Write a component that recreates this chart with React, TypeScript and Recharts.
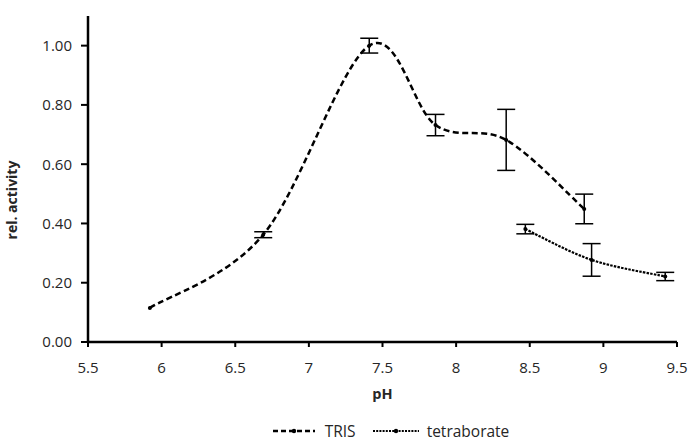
import React from 'react';
import { LineChart, Line, XAxis, YAxis, ErrorBar, Legend } from 'recharts';

const trisPH = [5.92, 6.69, 7.41, 7.86, 8.34, 8.87];
const trisActivity = [0.115, 0.362, 1.0, 0.732, 0.682, 0.449];
const trisError = [0, 0.01, 0.025, 0.036, 0.103, 0.05];

const tetraPH = [8.47, 8.92, 9.42];
const tetraActivity = [0.381, 0.277, 0.221];
const tetraError = [0.016, 0.055, 0.014];

const xTicks = [5.5, 6, 6.5, 7, 7.5, 8, 8.5, 9, 9.5];
const yTicks = [0, 0.2, 0.4, 0.6, 0.8, 1.0];

const trisData = trisPH.map((ph, i) => ({ ph, act: trisActivity[i], err: trisError[i] }));
const tetraData = tetraPH.map((ph, i) => ({ ph, act: tetraActivity[i], err: tetraError[i] }));

const font = 'Open Sans, sans-serif';
const textColor = '#262626';

// Catmull-Rom style smoothing, close to Excel's "smoothed line"
const smoothCurve = (context: any) => {
  let pts: number[][] = [];
  return {
    areaStart() {},
    areaEnd() {},
    lineStart() {
      pts = [];
    },
    lineEnd() {
      if (!pts.length) return;
      context.moveTo(pts[0][0], pts[0][1]);
      for (let i = 0; i < pts.length - 1; i++) {
        const p0 = pts[i - 1] || pts[i];
        const p1 = pts[i];
        const p2 = pts[i + 1];
        const p3 = pts[i + 2] || p2;
        const c1x = p1[0] + (p2[0] - p0[0]) / 6;
        const c1y = p1[1] + (p2[1] - p0[1]) / 6;
        const c2x = p2[0] - (p3[0] - p1[0]) / 6;
        const c2y = p2[1] - (p3[1] - p1[1]) / 6;
        context.bezierCurveTo(c1x, c1y, c2x, c2y, p2[0], p2[1]);
      }
    },
    point(x: number, y: number) {
      pts.push([+x, +y]);
    },
  };
};

const LegendContent = () => (
  <div style={{ display: 'flex', justifyContent: 'center', alignItems: 'center', height: 20, lineHeight: '20px', fontFamily: font, fontSize: 15.5, color: textColor, paddingLeft: 84 }}>
    <svg width={44} height={10}>
      <line x1={1} y1={5} x2={43} y2={5} stroke="#000" strokeWidth={2.4} strokeDasharray="5 3" />
      <circle cx={22} cy={5} r={2.2} fill="#000" />
    </svg>
    <span style={{ marginLeft: 9, marginRight: 16 }}>TRIS</span>
    <svg width={48} height={10}>
      <line x1={1} y1={5} x2={47} y2={5} stroke="#000" strokeWidth={2} strokeDasharray="2 1.2" />
      <circle cx={24} cy={5} r={2.2} fill="#000" />
    </svg>
    <span style={{ marginLeft: 7 }}>tetraborate</span>
  </div>
);

const App = () => {
  return (
    <div style={{ position: 'absolute', left: 0, top: 0, background: '#fff' }}>
      <LineChart width={689} height={443} margin={{ top: 16, right: 12, left: 20, bottom: 0 }}>
        <XAxis
          type="number"
          dataKey="ph"
          domain={[5.5, 9.5]}
          ticks={xTicks}
          allowDuplicatedCategory={false}
          tick={{ fontSize: 15, fill: textColor, fontFamily: font, dy: 13 }}
          tickLine={{ stroke: '#000', strokeWidth: 2 }}
          tickSize={5}
          tickMargin={2}
          axisLine={{ stroke: '#000', strokeWidth: 2.5 }}
          height={79}
          label={{ value: 'pH', position: 'insideTop', offset: 47, fontSize: 14.5, fontWeight: 'bold', fill: textColor, fontFamily: font }}
        />
        <YAxis
          type="number"
          domain={[0, 1.1]}
          ticks={yTicks}
          tickFormatter={(v) => v.toFixed(2)}
          tick={{ fontSize: 15, fill: textColor, fontFamily: font }}
          tickLine={{ stroke: '#000', strokeWidth: 2 }}
          tickSize={7}
          tickMargin={9}
          axisLine={{ stroke: '#000', strokeWidth: 2.5 }}
          width={68}
          label={{ value: 'rel. activity', angle: -90, position: 'insideLeft', offset: -8, dy: 21, fontSize: 14, fontWeight: 'bold', fill: textColor, fontFamily: font, style: { textAnchor: 'middle' } }}
        />
        <Legend verticalAlign="bottom" height={22} content={<LegendContent />} wrapperStyle={{ bottom: 0 }} />
        <Line
          data={trisData}
          dataKey="act"
          name="TRIS"
          type={smoothCurve as any}
          stroke="#000"
          strokeWidth={2.5}
          strokeDasharray="6 3.5"
          dot={{ r: 2, fill: '#000', stroke: 'none', strokeDasharray: '' }}
          isAnimationActive={false}
        >
          <ErrorBar dataKey="err" direction="y" width={9} stroke="#000" strokeWidth={1.5} />
        </Line>
        <Line
          data={tetraData}
          dataKey="act"
          name="tetraborate"
          type={smoothCurve as any}
          stroke="#000"
          strokeWidth={2.2}
          strokeDasharray="2.5 1.2"
          dot={{ r: 2, fill: '#000', stroke: 'none', strokeDasharray: '' }}
          isAnimationActive={false}
        >
          <ErrorBar dataKey="err" direction="y" width={9} stroke="#000" strokeWidth={1.5} />
        </Line>
      </LineChart>
    </div>
  );
};

export default App;
